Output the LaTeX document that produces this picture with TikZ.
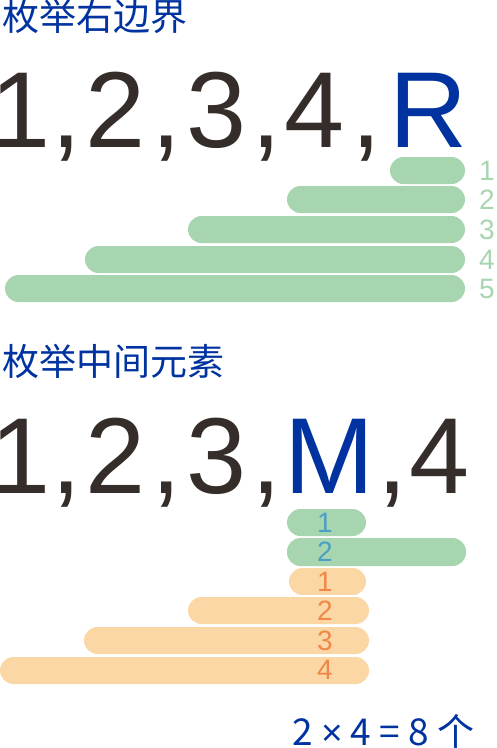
\documentclass[tikz,border=0pt]{standalone}
\usepackage{fontspec}
\setmainfont{Liberation Sans}
\newfontfamily\cjk{Noto Sans CJK SC}
\definecolor{inkGray}{HTML}{352D2A}
\definecolor{keyBlue}{HTML}{0033A0}
\definecolor{barGreen}{HTML}{A7D5B0}
\definecolor{barOrange}{HTML}{FBD7A6}
\definecolor{numTeal}{HTML}{4A9FC4}
\definecolor{numOrange}{HTML}{EF8747}
\tikzset{
    big char/.style={anchor=base, inner sep=0pt, text=inkGray,
      font=\fontsize{108}{108}\selectfont},
    key char/.style={big char, text=keyBlue},
    title line/.style={anchor=base west, inner sep=0pt, text=keyBlue,
      font=\cjk\fontsize{37}{37}\selectfont},
    green bar/.style={fill=barGreen, rounded corners=13.5pt},
    orange bar/.style={fill=barOrange, rounded corners=13.5pt},
    side num/.style={inner sep=0pt, text=barGreen,
      font=\fontsize{28}{28}\selectfont},
    mid num/.style={side num, text=numOrange}
}
\begin{document}
\begin{tikzpicture}[x=1pt,y=-1pt]
  \useasboundingbox (0,0) rectangle (496,748);

  % right bound
  \node[title line] (titleR) at (2,30.5) {枚举右边界};
  \node[big char] (r1) at (21,147) {1};
  \node[big char] (rc1) at (67,147) {,};
  \node[big char] (r2) at (116,147) {2};
  \node[big char] (rc2) at (167,147) {,};
  \node[big char] (r3) at (217,147) {3};
  \node[big char] (rc3) at (267,147) {,};
  \node[big char] (r4) at (315,147) {4};
  \node[big char] (rc4) at (367,147) {,};
  \node[key char] (rR) at (428,147) {R};

  \fill[green bar] (390,157) rectangle (465,184);
  \fill[green bar] (287,186) rectangle (465,213);
  \fill[green bar] (188,216) rectangle (465,243);
  \fill[green bar] (85,246) rectangle (465,273);
  \fill[green bar] (5,275) rectangle (465,302);
  \node[side num] (s1) at (487,170.5) {1};
  \node[side num] (s2) at (487,199.5) {2};
  \node[side num] (s3) at (487,229.5) {3};
  \node[side num] (s4) at (487,259.5) {4};
  \node[side num] (s5) at (487,288.5) {5};

  % middle element
  \node[title line] (titleM) at (2,375.5) {枚举中间元素};
  \node[big char] (m1) at (21,493) {1};
  \node[big char] (mc1) at (67,493) {,};
  \node[big char] (m2) at (116,493) {2};
  \node[big char] (mc2) at (167,493) {,};
  \node[big char] (m3) at (217,493) {3};
  \node[big char] (mc3) at (267,493) {,};
  \node[key char] (mM) at (329,493) {M};
  \node[big char] (mc4) at (393,493) {,};
  \node[big char] (m4) at (440,493) {4};

  \fill[green bar] (287,509) rectangle (366,536);
  \fill[green bar] (287,538) rectangle (466,566);
  \fill[orange bar] (289,568) rectangle (366,595);
  \fill[orange bar] (188,597) rectangle (369,624);
  \fill[orange bar] (84,627) rectangle (369,654);
  \fill[orange bar] (0,657) rectangle (369,684);
  \node[side num, text=numTeal] (g1) at (325,522.5) {1};
  \node[side num, text=numTeal] (g2) at (325,552) {2};
  \node[mid num] (o1) at (325,581.5) {1};
  \node[mid num] (o2) at (325,610.5) {2};
  \node[mid num] (o3) at (325,640.5) {3};
  \node[mid num] (o4) at (325,670) {4};

  \node[title line] (total) at (292,745) {2 {\rmfamily ×} 4 = 8 个};
\end{tikzpicture}
\end{document}
